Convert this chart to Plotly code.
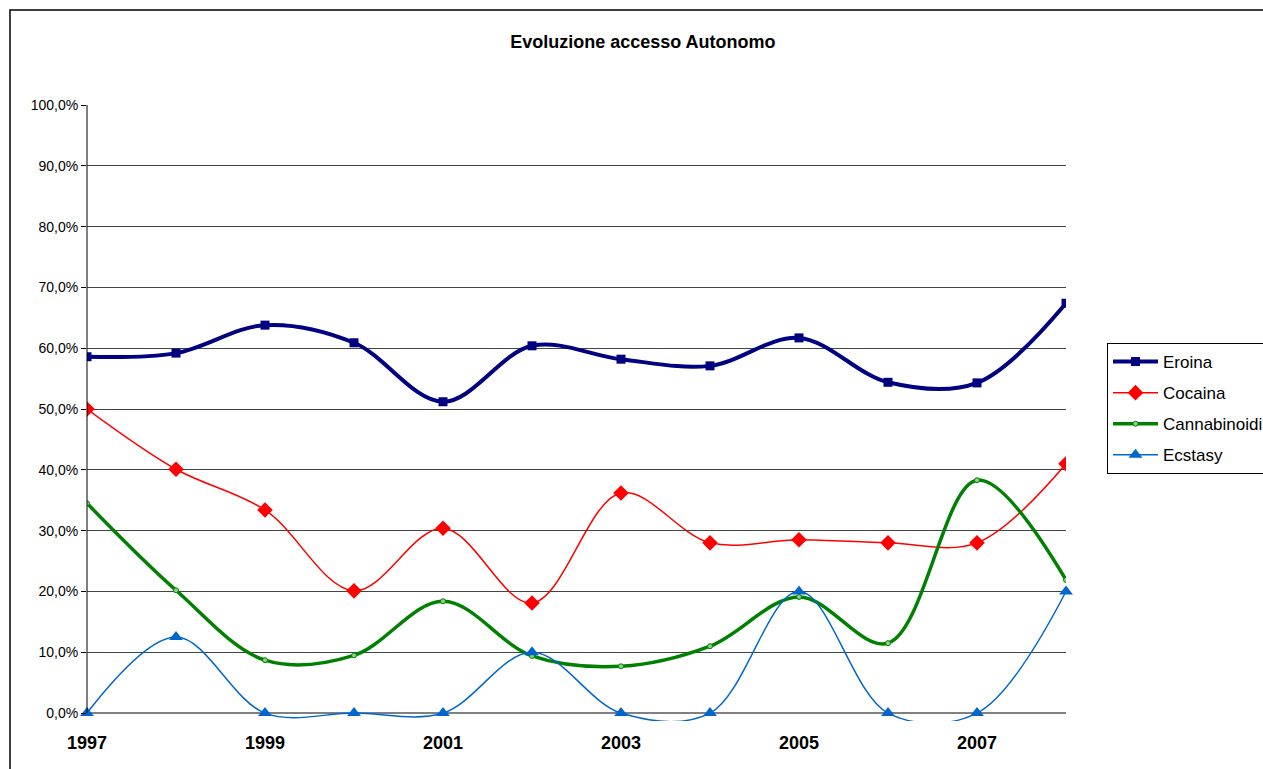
import plotly.graph_objects as go

years = list(range(1997, 2009))
eroina = [58.6, 59.2, 63.8, 60.9, 51.2, 60.4, 58.2, 57.1, 61.7, 54.4, 54.3, 67.4]
cocaina = [50.0, 40.1, 33.4, 20.1, 30.4, 18.1, 36.2, 28.0, 28.5, 28.0, 28.0, 41.0]
cannabinoidi = [34.5, 20.2, 8.7, 9.5, 18.4, 9.4, 7.7, 11.0, 19.1, 11.5, 38.3, 21.9]
ecstasy = [0, 12.5, 0, 0, 0, 10.0, 0, 0, 20.0, 0, 0, 20.0]

x_ticks = [1997, 1999, 2001, 2003, 2005, 2007]
y_ticks = [0, 10, 20, 30, 40, 50, 60, 70, 80, 90, 100]
y_labels = ["0,0%", "10,0%", "20,0%", "30,0%", "40,0%", "50,0%", "60,0%", "70,0%", "80,0%", "90,0%", "100,0%"]

FONT = "Liberation Sans, Arial, sans-serif"
SM = 1.0

fig = go.Figure()
fig.add_trace(go.Scatter(x=years, y=eroina, name="Eroina", mode="lines+markers", legendgroup="a",
                         line=dict(color="#000080", width=4, shape="spline", smoothing=SM),
                         marker=dict(symbol="square", size=9, color="#000080")))
fig.add_trace(go.Scatter(x=years, y=cocaina, name="Cocaina", mode="lines+markers", legendgroup="b",
                         line=dict(color="#FF0000", width=1.5, shape="spline", smoothing=SM),
                         marker=dict(symbol="diamond", size=12, color="#FF0000")))
fig.add_trace(go.Scatter(x=years, y=cannabinoidi, name="Cannabinoidi", mode="lines+markers", legendgroup="c",
                         line=dict(color="#008000", width=3.5, shape="spline", smoothing=SM),
                         marker=dict(symbol="circle", size=5, color="#8fd08f",
                                     line=dict(color="#008000", width=1))))
fig.add_trace(go.Scatter(x=years, y=ecstasy, name="Ecstasy", mode="lines+markers", legendgroup="d",
                         line=dict(color="#0066CC", width=1.5, shape="spline", smoothing=SM),
                         marker=dict(symbol="triangle-up", size=12, color="#0066CC"),
                         cliponaxis=False))

fig.update_layout(
    width=1263, height=769,
    margin=dict(l=87, r=197, t=105, b=48),
    paper_bgcolor="white", plot_bgcolor="white",
    font=dict(family=FONT, color="black"),
    title=dict(text="<b>Evoluzione accesso Autonomo</b>", x=0.509, xanchor="center",
               y=1 - 42 / 769, yanchor="middle", font=dict(size=18, family=FONT)),
    showlegend=True,
    legend=dict(xref="container", yref="container", x=1107 / 1263, xanchor="left",
                y=1 - 343 / 769, yanchor="top",
                bgcolor="white", bordercolor="black", borderwidth=1,
                font=dict(size=17, family=FONT), tracegroupgap=6, itemwidth=45),
    xaxis=dict(range=[1997, 2008], tickvals=x_ticks, ticktext=[str(v) for v in x_ticks],
               showgrid=False, zeroline=False, showline=False, ticks="",
               tickfont=dict(size=18, family=FONT, color="black", weight="bold"),
               ticklabelstandoff=9),
    yaxis=dict(range=[-1.3, 100], tickvals=y_ticks, ticktext=y_labels,
               showgrid=True, gridcolor="#444444", gridwidth=1,
               zeroline=True, zerolinecolor="#808080", zerolinewidth=2,
               showline=False, ticks="outside", ticklen=5, tickcolor="black",
               tickfont=dict(size=14, family=FONT, color="black")),
    shapes=[
        dict(type="line", xref="paper", yref="y", x0=0, x1=0, y0=0, y1=100,
             line=dict(color="black", width=1)),
        dict(type="rect", xref="paper", yref="paper",
             x0=(10 - 87) / 979, x1=1.4, y0=-0.3, y1=(721 - 10) / 616,
             line=dict(color="black", width=1.5), fillcolor="rgba(0,0,0,0)", layer="below"),
    ],
)

fig.write_html("out.html")
